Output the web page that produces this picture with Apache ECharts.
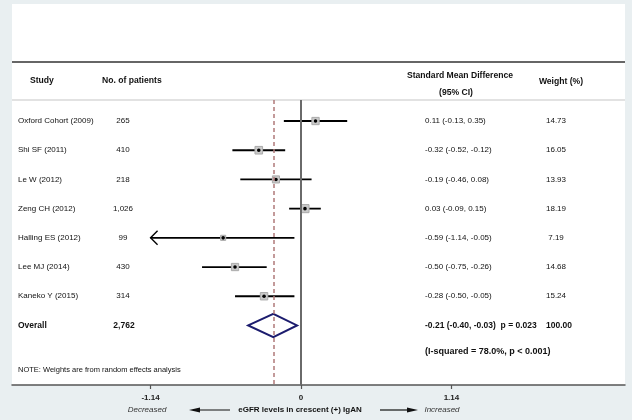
<!DOCTYPE html>
<html>
<head>
<meta charset="utf-8">
<script src="https://cdn.jsdelivr.net/npm/echarts@6/dist/echarts.min.js"></script>
<style>
html,body{margin:0;padding:0;background:#e9eff1;}
#chart{width:632px;height:420px;}
</style>
</head>
<body>
<div id="chart"></div>
<script>
const studies = ['Oxford Cohort (2009)', 'Shi SF (2011)', 'Le W (2012)', 'Zeng CH (2012)', 'Halling ES (2012)', 'Lee MJ (2014)', 'Kaneko Y (2015)'];
const patients = ['265', '410', '218', '1,026', '99', '430', '314'];
const smd = [0.11, -0.32, -0.19, 0.03, -0.59, -0.50, -0.28];
const ciLow = [-0.13, -0.52, -0.46, -0.09, -1.14, -0.75, -0.50];
const ciHigh = [0.35, -0.12, 0.08, 0.15, -0.05, -0.26, -0.05];
const weights = [14.73, 16.05, 13.93, 18.19, 7.19, 14.68, 15.24];
const overallLabel = 'Overall';
const overallPatients = '2,762';
const overallSmd = -0.21;
const overallLow = -0.40;
const overallHigh = -0.03;
const overallP = '0.023';
const overallWeight = 100.00;
const heterogeneity = '(I-squared = 78.0%, p < 0.001)';
const xTicks = [-1.14, 0, 1.14];

const FONT = '"Liberation Sans", Arial, sans-serif';
const TXT = '#111111';
const fmt = v => v.toFixed(2);

const chart = echarts.init(document.getElementById('chart'));

function txt(x, y, text, opts) {
  return {
    type: 'text', x: x, y: y,
    style: Object.assign({text: text, fill: TXT, font: '8px ' + FONT, textAlign: 'left', textVerticalAlign: 'middle'}, opts || {})
  };
}

const rowData = studies.map((s, i) => [ciLow[i], ciHigh[i], smd[i], i, weights[i]]);
const nOverall = studies.length;
const BOLD = 'bold 8px ' + FONT;
const HEAD = 'bold 8.6px ' + FONT;

const option = {
  backgroundColor: 'transparent',
  animation: false,
  grid: {left: 12, right: 7, top: 100, bottom: 35},
  xAxis: {
    type: 'value', min: -2.19, max: 2.455,
    splitLine: {show: false},
    axisLine: {show: true, onZero: false, lineStyle: {color: '#555', width: 1.5}},
    axisTick: {show: true, customValues: xTicks, length: 4, lineStyle: {color: '#555', width: 1.2}},
    axisLabel: {show: true, customValues: xTicks, margin: 9, color: '#222', fontSize: 8, fontWeight: 'bold', fontFamily: FONT,
      formatter: v => (v === 0 ? '0' : fmt(v))}
  },
  yAxis: {type: 'value', inverse: true, min: -0.72, max: 9.04, show: false},
  graphic: {elements: [
    {type: 'rect', z: -10, shape: {x: 12, y: 4, width: 613, height: 381}, style: {fill: '#ffffff'}},
    {type: 'line', shape: {x1: 12, y1: 62, x2: 625, y2: 62}, style: {stroke: '#666', lineWidth: 2}},
    {type: 'line', shape: {x1: 12, y1: 100, x2: 625, y2: 100}, style: {stroke: '#e2e2e2', lineWidth: 2}},
    txt(30, 81, 'Study', {font: HEAD}),
    txt(102, 81, 'No. of patients', {font: HEAD}),
    txt(460, 76, 'Standard Mean Difference', {font: HEAD, textAlign: 'center'}),
    txt(456, 93, '(95% CI)', {font: HEAD, textAlign: 'center'}),
    txt(561, 82, 'Weight (%)', {font: HEAD, textAlign: 'center'}),
    txt(18, 370, 'NOTE: Weights are from random effects analysis', {font: '7.5px ' + FONT}),
    txt(147, 410, 'Decreased', {font: 'italic 8px ' + FONT, textAlign: 'center', fill: '#333'}),
    txt(300, 410, 'eGFR levels in crescent (+) IgAN', {font: BOLD, textAlign: 'center'}),
    txt(442, 410, 'Increased', {font: 'italic 8px ' + FONT, textAlign: 'center', fill: '#333'}),
    {type: 'line', shape: {x1: 196, y1: 410, x2: 230, y2: 410}, style: {stroke: '#111', lineWidth: 1.2}},
    {type: 'polygon', shape: {points: [[189, 410], [200, 407.5], [200, 412.5]]}, style: {fill: '#111'}},
    {type: 'line', shape: {x1: 380, y1: 410, x2: 411, y2: 410}, style: {stroke: '#111', lineWidth: 1.2}},
    {type: 'polygon', shape: {points: [[418, 410], [407, 407.5], [407, 412.5]]}, style: {fill: '#111'}}
  ]},
  series: [
    {
      type: 'custom',
      name: 'studies',
      data: rowData,
      encode: {x: [0, 1, 2], y: 3},
      renderItem: function (params, api) {
        const i = api.value(3);
        const lo = api.coord([api.value(0), i]);
        const hi = api.coord([api.value(1), i]);
        const c = api.coord([api.value(2), i]);
        const side = 1.9 * Math.sqrt(api.value(4));
        const children = [
          {type: 'line', shape: {x1: lo[0], y1: lo[1], x2: hi[0], y2: hi[1]}, style: {stroke: '#000', lineWidth: 1.8}},
          {type: 'rect', shape: {x: c[0] - side / 2, y: c[1] - side / 2, width: side, height: side}, style: {fill: '#c9c9c9', stroke: '#aaaaaa', lineWidth: 1}},
          {type: 'circle', shape: {cx: c[0], cy: c[1], r: 1.8}, style: {fill: '#000'}}
        ];
        if (api.value(0) <= xTicks[0]) {
          children.push({type: 'polyline', shape: {points: [[lo[0] + 7, lo[1] - 7], [lo[0], lo[1]], [lo[0] + 7, lo[1] + 7]]}, style: {stroke: '#000', lineWidth: 1.4, fill: null}});
        }
        return {type: 'group', children: children};
      },
      markLine: {
        silent: true, symbol: 'none', label: {show: false},
        data: [
          {xAxis: 0, lineStyle: {color: '#6a6a6a', width: 2, type: 'solid'}},
          {xAxis: overallSmd, lineStyle: {color: '#b07a7a', width: 1.5, type: [4, 3]}}
        ]
      }
    },
    {
      type: 'custom',
      name: 'table',
      data: studies.map((s, i) => [0, i]),
      encode: {x: 0, y: 1},
      renderItem: function (params, api) {
        const k = params.dataIndex;
        const y = api.coord([0, api.value(1)])[1];
        return {type: 'group', children: [
          txt(18, y, studies[k]),
          txt(123, y, patients[k], {textAlign: 'center'}),
          txt(425, y, fmt(smd[k]) + ' (' + fmt(ciLow[k]) + ', ' + fmt(ciHigh[k]) + ')'),
          txt(556, y, fmt(weights[k]), {textAlign: 'center'})
        ]};
      }
    },
    {
      type: 'custom',
      name: 'overall',
      data: [[overallLow, overallHigh, overallSmd, nOverall]],
      encode: {x: [0, 1, 2], y: 3},
      renderItem: function (params, api) {
        const r = api.value(3);
        const lo = api.coord([api.value(0), r]);
        const hi = api.coord([api.value(1), r]);
        const top = api.coord([api.value(2), r - 0.4]);
        const bot = api.coord([api.value(2), r + 0.4]);
        const hetY = api.coord([0, r + 0.9])[1];
        const B = {font: 'bold 8.5px ' + FONT};
        return {type: 'group', children: [
          {type: 'polygon', shape: {points: [lo, top, hi, bot]}, style: {fill: 'none', stroke: '#1c1c6e', lineWidth: 2}},
          txt(18, lo[1], overallLabel, B),
          txt(124, lo[1], overallPatients, Object.assign({textAlign: 'center'}, B)),
          txt(425, lo[1], fmt(overallSmd) + ' (' + fmt(overallLow) + ', ' + fmt(overallHigh) + ')  p = ' + overallP, B),
          txt(559, lo[1], fmt(overallWeight), Object.assign({textAlign: 'center'}, B)),
          txt(425, hetY, heterogeneity, {font: 'bold 9px ' + FONT})
        ]};
      }
    }
  ]
};
chart.setOption(option);
</script>
</body>
</html>
